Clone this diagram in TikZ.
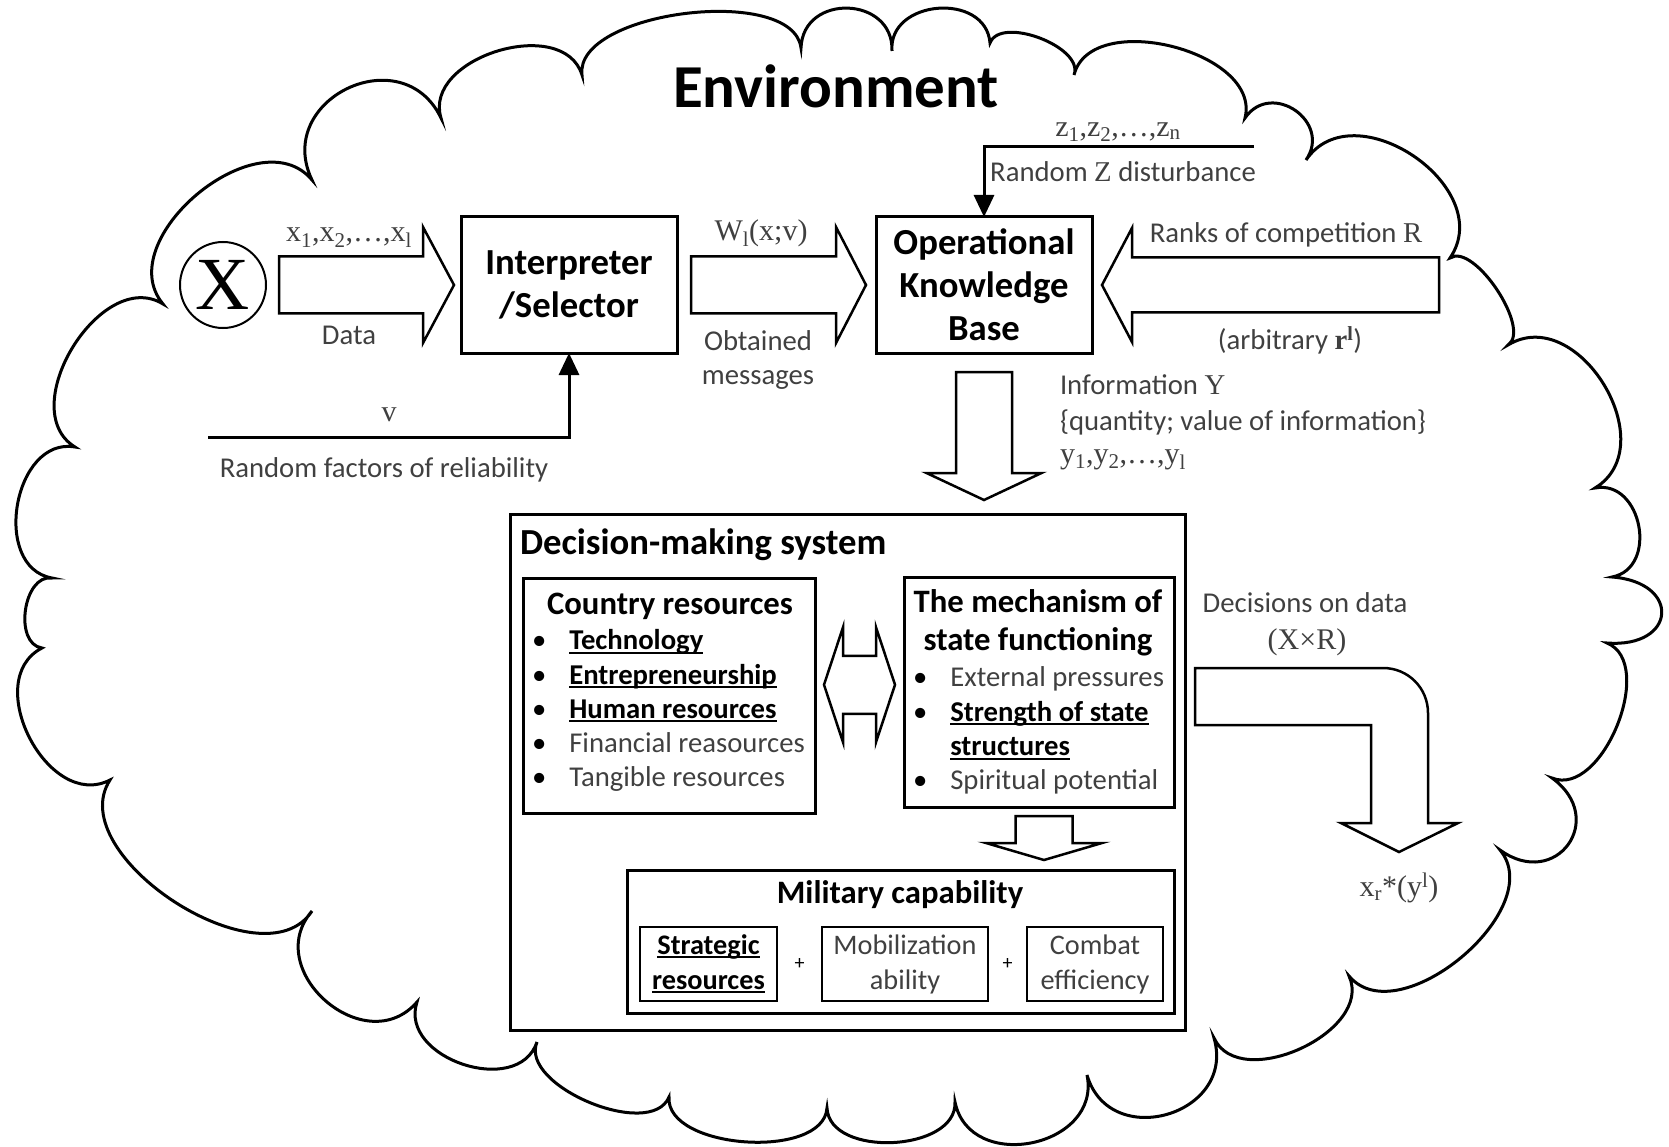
\documentclass[tikz,border=0pt]{standalone}
\usepackage{fontspec}
\setmainfont{Carlito}
\newfontfamily\symserif{Liberation Serif}
\usetikzlibrary{arrows.meta,calc,positioning}
\definecolor{txtgray}{gray}{0.25}

\newlength{\ulnw}
\newcommand{\uln}[1]{\settowidth{\ulnw}{#1}\rlap{\rule[-0.14em]{\ulnw}{0.07em}}#1}

\newcommand{\blockarrow}[5]{%
  \coordinate (bah) at ($(#2)!#5!(#1)$);
  \draw[hollow] ($(#1)!#3!90:(#2)$) -- ($(bah)!#3!90:(#2)$) -- ($(bah)!#4!90:(#2)$)
    -- (#2) -- ($(bah)!#4!-90:(#2)$) -- ($(bah)!#3!-90:(#2)$)
    -- ($(#1)!#3!-90:(#2)$) -- cycle;}

\begin{document}
\begin{tikzpicture}[x=1pt,y=-1pt,
    every node/.style={outer sep=0pt},
    lbl/.style={inner sep=0pt,text=txtgray,align=center,font=\fontsize{28.7}{34}\selectfont},
    sym/.style={inner sep=0pt,text=txtgray,font=\symserif\fontsize{30}{34}\selectfont},
    mainbox/.style={draw,line width=3pt,minimum width=216pt,minimum height=136pt,align=center,
                    font=\bfseries\fontsize{36.7}{43}\selectfont},
    sysbox/.style={draw,line width=3pt,inner sep=0pt},
    subtitle/.style={inner sep=0pt,align=center,font=\bfseries\fontsize{32.7}{38}\selectfont},
    bullets/.style={inner sep=0pt,font=\fontsize{28.7}{34.3}\selectfont},
    smallbox/.style={draw,line width=2pt,minimum height=74pt,align=center,inner sep=0pt,
                     font=\fontsize{28.3}{35}\selectfont},
    hollow/.style={draw,line width=2.5pt,line join=miter},
    thinarrow/.style={line width=3pt,-{Triangle[length=22pt,width=20pt]}},
    cloudline/.style={line width=3pt,line join=miter}]

  \useasboundingbox (0,0) rectangle (1669,1147);

  \draw[cloudline] (163,304) \foreach \px/\py/\lo in {312/180/1.1, 441/118/1.6, 582/75/1.1,
      801/48/0.75, 892/51/1.55, 990/43/1.35, 1074/75/0.85, 1245/118/1.0, 1306/160/1.6,
      1450/258/1.25, 1508/345/0.7, 1595/488/1.25, 1612/577/1.35, 1607/643/2.7,
      1552/778/0.95, 1500/850/2.0, 1349/976/1.0, 1214/1038/1.05, 1087/1075/1.55,
      955/1102/1.4, 827/1108/1.0, 669/1097/0.85, 537/1042/0.85, 417/1002/1.2,
      312/911/1.45, 110/780/0.95, 42/648/1.2, 52/578/1.05, 75/447/1.2, 163/304/1.1}
      { to[bend left=90,looseness=\lo] (\px,\py) } -- cycle;

  \node[inner sep=0pt,font=\bfseries\fontsize{61}{70}\selectfont] (env) at (836,86) {Environment};

  \node[draw,circle,line width=2pt,minimum size=86pt,inner sep=0pt,
        font=\symserif\fontsize{75}{75}\selectfont] (X) at (223,285) {X};
  \node[mainbox] (interp) at (569,285) {Interpreter\\/Selector};
  \node[mainbox] (okb) at (984,285) {Operational\\Knowledge\\Base};

  \coordinate (dataS) at ($(X.east)+(13,0)$);
  \coordinate (dataT) at ($(interp.west)+(-7,0)$);
  \blockarrow{dataS}{dataT}{28.5pt}{58pt}{31pt}
  \node[sym] (xdata) at (349,238) {x\textsubscript{1},x\textsubscript{2},…,x\textsubscript{l}};
  \node[lbl] (data) at (349,335) {Data};

  \coordinate (wS) at ($(interp.east)+(14,0)$);
  \coordinate (wT) at ($(okb.west)+(-10,0)$);
  \blockarrow{wS}{wT}{28.5pt}{58pt}{30pt}
  \node[sym] (wlab) at (761,233) {W\textsubscript{l}(x;v)};
  \node[lbl] (obt) at (758,360) {Obtained\\messages};

  \coordinate (vS) at (208,437);
  \draw[thinarrow] (vS) -| (interp.south);
  \node[sym] (vlab) at (389,415) {v};
  \node[lbl] (rel) at (384,470) {Random factors of reliability};

  \coordinate (zS) at (1254,147);
  \draw[thinarrow] (zS) -| (okb.north);
  \node[sym] (zlab) at (1118,132) {z\textsubscript{1},z\textsubscript{2},…,z\textsubscript{n}};
  \node[lbl] (zdist) at (1123,172) {Random {\symserif Z} disturbance};

  \coordinate (rS) at ($(okb.east)+(347,0)$);
  \coordinate (rT) at ($(okb.east)+(10,0)$);
  \blockarrow{rS}{rT}{27.5pt}{57pt}{30pt}
  \node[lbl] (ranks) at (1286,235) {Ranks of competition {\symserif R}};
  \node[lbl] (arb) at (1290,340) {(arbitrary {\symserif\bfseries r\textsuperscript{l}})};

  \node[sysbox,minimum width=675pt,minimum height=516pt] (dms) at (847.5,772) {};
  \node[inner sep=0pt,anchor=west,font=\bfseries\fontsize{36.7}{43}\selectfont] (dmsT) at (520,545)
    {Decision-making system};

  \coordinate (yS) at ($(okb.south)+(0,19)$);
  \coordinate (yT) at ($(okb.south |- dms.north)+(0,-14)$);
  \blockarrow{yS}{yT}{28pt}{57.5pt}{27pt}
  \node[lbl,anchor=west] (info) at (1060,385) {Information {\symserif Y}};
  \node[lbl,anchor=west] (qty) at (1060,422) {\{quantity; value of information\}};
  \node[sym,anchor=west] (ylab) at (1060,460) {y\textsubscript{1},y\textsubscript{2},…,y\textsubscript{l}};

  \node[sysbox,minimum width=292pt,minimum height=235pt] (country) at (669,695.5) {};
  \node[subtitle] (countryT) at (670,606) {Country resources};
  \node[bullets,anchor=west] (countryL) at (532,711.5) {\begin{tabular}{@{}l@{\hspace{23pt}}l@{}}
    \textbullet & \textbf{\uln{Technology}}\\
    \textbullet & \textbf{\uln{Entrepreneurship}}\\
    \textbullet & \textbf{\uln{Human resources}}\\
    \textbullet & \textcolor{txtgray}{Financial reasources}\\
    \textbullet & \textcolor{txtgray}{Tangible resources}
  \end{tabular}};

  \node[sysbox,minimum width=270pt,minimum height=230pt] (mech) at (1039,692) {};
  \node[subtitle] (mechT) at (1038,623) {The mechanism of\\state functioning};
  \node[bullets,anchor=west] (mechL) at (913,731.5) {\begin{tabular}{@{}l@{\hspace{23pt}}l@{}}
    \textbullet & \textcolor{txtgray}{External pressures}\\
    \textbullet & \textbf{\uln{Strength of state}}\\
                & \textbf{\uln{structures}}\\
    \textbullet & \textcolor{txtgray}{Spiritual potential}
  \end{tabular}};

  \coordinate (dblC) at ($(country.east)!0.5!(mech.west)+(0,-9)$);
  \draw[hollow,shift={(dblC)}] (-35.5,0) -- (-16.5,-57.5) -- (-16.5,-29) -- (16.5,-29)
    -- (16.5,-57.5) -- (35.5,0) -- (16.5,57.5) -- (16.5,29) -- (-16.5,29) -- (-16.5,57.5) -- cycle;

  \node[sysbox,minimum width=547pt,minimum height=143pt] (mil) at (900.5,941.5) {};
  \node[subtitle] (milT) at (900,895) {Military capability};
  \node[smallbox,minimum width=137pt,font=\bfseries\fontsize{28.3}{35}\selectfont] (strat) at (708.5,964)
    {\uln{Strategic}\\\uln{resources}};
  \node[smallbox,minimum width=166pt,text=txtgray] (mob) at (905,964) {Mobilization\\ability};
  \node[smallbox,minimum width=136pt,text=txtgray] (combat) at (1095,964) {Combat\\efficiency};
  \node[inner sep=0pt,font=\fontsize{20}{20}\selectfont] (plus1) at ($(strat.east)!0.5!(mob.west)$) {+};
  \node[inner sep=0pt,font=\fontsize{20}{20}\selectfont] (plus2) at ($(mob.east)!0.5!(combat.west)$) {+};

  \coordinate (mS) at ($(mech.south)+(5,9)$);
  \coordinate (mT) at ($(mech.south |- mil.north)+(5,-10)$);
  \blockarrow{mS}{mT}{28.5pt}{58pt}{17pt}

  \coordinate (decS) at ($(dms.east)+(10,-75.5)$);
  \draw[hollow,shift={(decS)}] (0,-28.5) -- (0,28.5) -- (176,28.5) -- (176,126.5) -- (146,126.5)
    -- (204,155.5) -- (263,126.5) -- (233,126.5) -- (233,16.5)
    .. controls (233,-8.5) and (213,-28.5) .. (188,-28.5) -- cycle;
  \node[lbl] (dec) at (1305,603) {Decisions on data};
  \node[sym] (xr) at (1307,642) {(X×R)};
  \node[sym] (xstar) at (1399,888) {x\textsubscript{r}*(y\textsuperscript{l})};
\end{tikzpicture}
\end{document}
